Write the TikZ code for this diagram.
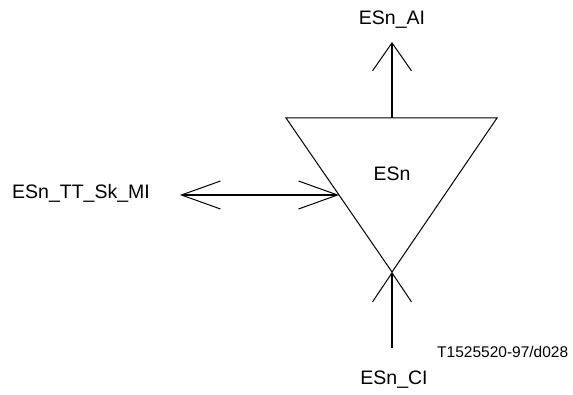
\documentclass[tikz,border=0pt]{standalone}
\usepackage{fontspec}
\setmainfont{Liberation Sans}
\usetikzlibrary{arrows.meta}
\begin{document}
\begin{tikzpicture}[x=1pt,y=-1pt,
  lbl/.style={font=\fontsize{19.5}{21}\selectfont, inner sep=0pt, anchor=base},
  small/.style={font=\fontsize{15.5}{17}\selectfont, inner sep=0pt, anchor=base west},
  ln/.style={line width=1.2pt},
  bigtip/.style={-{Straight Barb[length=28pt,width=39pt,line width=1pt]}},
]
\useasboundingbox (0,0) rectangle (573,395);
% triangle
\coordinate (tl) at (286,118);
\coordinate (tr) at (497,118);
\coordinate (ap) at (392,272);
\draw[line width=1pt, line join=miter] (tl) -- (tr) -- (ap) -- cycle;
\node[lbl] (esn) at (392,181) {ESn};
% top
\coordinate (topmid) at (392,118);
\coordinate (toptip) at (392,42);
\node[lbl] (ai) at (392,25) {ESn\_AI};
\draw[ln, bigtip] (topmid) -- (toptip);
% left
\coordinate (lt) at (180,195);
\coordinate (rt) at (339,195);
\node[lbl, anchor=base west] (mi) at (12,199) {ESn\_TT\_Sk\_MI};
\draw[ln, {Straight Barb[length=39pt,width=28pt,line width=1pt]}-{Straight Barb[length=39pt,width=28pt,line width=1pt]}] (lt) -- (rt);
% bottom
\coordinate (bot) at (392,348);
\draw[ln, -{Straight Barb[length=29pt,width=39pt,line width=1pt]}] (bot) -- (ap);
\node[lbl] (ci) at (394,384) {ESn\_CI};
\node[small] (ref) at (437,357) {T1525520-97/d028};
\end{tikzpicture}
\end{document}
